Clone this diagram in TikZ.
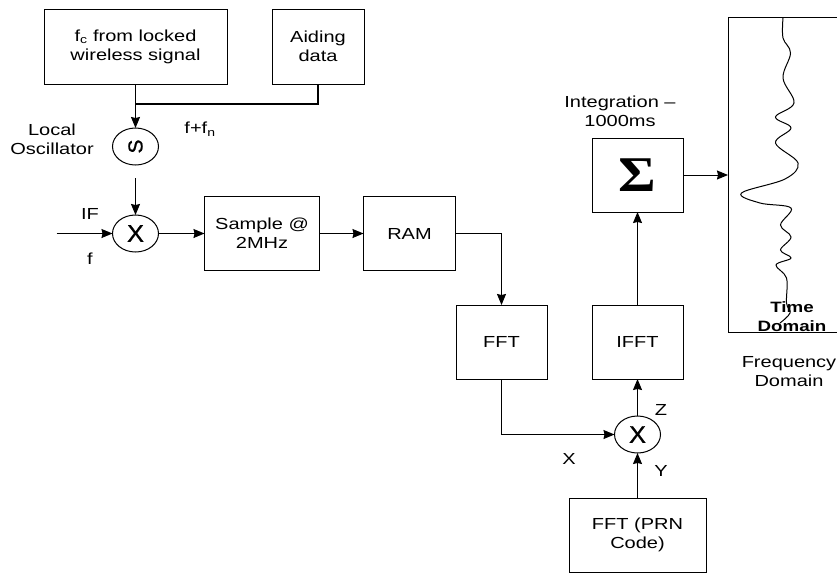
\documentclass[tikz,border=0pt]{standalone}
\usepackage{fontspec}
\setmainfont[FakeStretch=1.25]{Liberation Sans}
\newfontfamily\sumfont[FakeStretch=1.15]{Liberation Serif}
\newfontfamily\markfont[FakeStretch=1.05,FakeBold=1]{Liberation Sans}
\usepackage{xcolor}
\usepackage{tikz}
\usetikzlibrary{arrows.meta,positioning,shapes.geometric}
\newcommand{\lblfont}{\fontsize{16}{19}\selectfont}
\tikzset{
  block/.style={rectangle, draw=black, line width=1pt, minimum height=74pt, minimum width=91pt,
    inner sep=0pt, outer sep=0pt, align=center, font=\lblfont},
  mixer/.style={ellipse, draw=black, line width=1pt, minimum width=46pt, minimum height=37pt,
    inner sep=0pt, outer sep=0pt, font=\fontsize{24}{24}\selectfont\markfont},
  lbl/.style={inner sep=0pt, align=center, font=\lblfont},
  wire/.style={line width=1pt},
  arr/.style={-{Stealth[length=11pt,width=9pt,inset=1pt]}, line width=1pt},
}
\begin{document}
\begin{tikzpicture}[x=1pt, y=-1pt]
  \useasboundingbox (0,0) rectangle (837,574);
  % ── top row: carrier and aiding inputs ────────────────────────────
  \node[block, minimum width=183pt, minimum height=75pt] (carrier) at (135.5,46.5)
    {f\textsubscript{c} from locked\\wireless signal};
  \node[block, minimum width=92pt, minimum height=75pt, right=45pt of carrier] (aiding) {Aiding\\data};
  \coordinate[below=20pt of carrier.south] (join);
  % ── oscillator and first mixer ────────────────────────────────────
  \node[mixer, font=\fontsize{20}{20}\selectfont\markfont, below=44pt of carrier.south] (osc) {\rotatebox{90}{S}};
  \coordinate[below=13pt of osc.south] (oscout);
  \node[mixer, below=50pt of osc.south] (mixa) {X};
  \coordinate[left=56pt of mixa.west] (ifin);
  % ── sampling chain ────────────────────────────────────────────────
  \node[block, minimum width=115pt, right=46pt of mixa] (sample) {Sample @\\2MHz};
  \node[block, minimum width=92pt, right=44pt of sample] (ram) {RAM};
  \node[block, anchor=north west] (fft) at (456,305) {FFT};
  \node[block, right=45pt of fft] (ifft) {IFFT};
  \node[block, above=93pt of ifft] (sumbox) {\fontsize{50}{50}\selectfont\sumfont\bfseries Σ};
  % ── second mixer and code input ───────────────────────────────────
  \node[mixer, below=37pt of ifft] (mixb) {X};
  \node[block, minimum width=137pt, below=45pt of mixb] (prn) {FFT (PRN\\Code)};
  % ── plot frame, open at the right edge ────────────────────────────
  \coordinate (plotne) at (837,17);
  \coordinate (plotnw) at (728,17);
  \coordinate (plotsw) at (728,332);
  \coordinate (plotse) at (837,332);
  \draw[wire] (plotne) -- (plotnw) -- (plotsw) -- (plotse);
  \draw[line width=1pt] plot[smooth, tension=0.6] coordinates {
    (783,18) (783,38) (790.5,53) (783,78) (794,103) (775.5,117) (791,128) (775.5,143)
    (798,163) (785,179) (741.5,193) (760,203) (791,208) (780.5,225) (791,237) (780.5,250)
    (791,258) (776,265) (786.5,278) (786.5,303) (790,313) (780,323)};
  % ── labels ────────────────────────────────────────────────────────
  \node[lbl] (oscname) at (52,139) {Local\\Oscillator};
  \node[lbl] (sumfreq) at (200,129) {f+f\textsubscript{n}};
  \node[lbl] (ifname) at (90,214) {IF};
  \node[lbl] (fname) at (90,259) {f};
  \node[lbl] (intname) at (620,111) {Integration --\\1000ms};
  \node[lbl] (xname) at (569,459) {X};
  \node[lbl] (yname) at (661,471) {Y};
  \node[lbl] (zname) at (661,410) {Z};
  \node[lbl, font=\fontsize{15}{19}\selectfont\bfseries] (timename) at (792,317) {Time\\Domain};
  \node[lbl] (freqname) at (789,372) {Frequency\\Domain};
  % ── arrows ────────────────────────────────────────────────────────
  \draw[arr] (carrier.south) -- (osc.north);
  \draw[wire, line width=1.4pt] (aiding.south) |- (join);
  \draw[arr] (oscout) -- (mixa.north);
  \draw[arr] (ifin) -- (mixa.west);
  \draw[arr] (mixa) -- (sample);
  \draw[arr] (sample) -- (ram);
  \draw[arr] (ram.east) -| (fft.north);
  \draw[arr] (fft.south) |- (mixb.west);
  \draw[arr] (prn.north) -- (mixb.south);
  \draw[arr] (mixb.north) -- (ifft.south);
  \draw[arr] (ifft.north) -- (sumbox.south);
  \draw[arr] (sumbox.east) -- (sumbox.east -| plotsw);
\end{tikzpicture}
\end{document}
